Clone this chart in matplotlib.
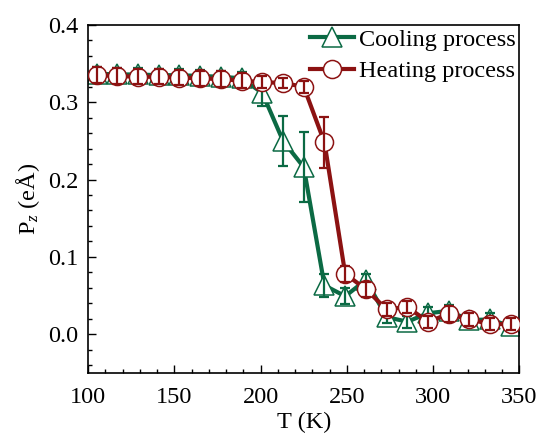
import numpy as np
import matplotlib

matplotlib.use("Agg")
import matplotlib.pyplot as plt
from matplotlib.ticker import MultipleLocator, FormatStrFormatter

plt.rcParams["font.family"] = ["Liberation Serif", "DejaVu Serif"]
plt.rcParams["mathtext.fontset"] = "custom"
plt.rcParams["mathtext.rm"] = "Liberation Serif"
plt.rcParams["mathtext.it"] = "Liberation Serif:italic"

# ---- data ----------------------------------------------------------------
temps = [105, 117, 129, 141, 153, 165, 177, 189, 201, 213, 225,
         237, 249, 261, 273, 285, 297, 309, 321, 333, 345]

cooling = [0.337, 0.336, 0.336, 0.335, 0.335, 0.334, 0.333, 0.331, 0.312, 0.250, 0.216,
           0.063, 0.049, 0.070, 0.022, 0.016, 0.027, 0.030, 0.018, 0.019, 0.010]
cooling_err = [0.008, 0.008, 0.008, 0.008, 0.008, 0.008, 0.008, 0.008, 0.017, 0.032, 0.045,
               0.015, 0.010, 0.008, 0.008, 0.008, 0.008, 0.008, 0.008, 0.008, 0.006]

heating = [0.335, 0.334, 0.333, 0.333, 0.332, 0.331, 0.330, 0.328, 0.326, 0.325, 0.320,
           0.248, 0.078, 0.058, 0.032, 0.035, 0.016, 0.026, 0.019, 0.013, 0.013]
heating_err = [0.010, 0.010, 0.010, 0.010, 0.010, 0.010, 0.010, 0.010, 0.008, 0.006, 0.008,
               0.033, 0.010, 0.010, 0.008, 0.008, 0.008, 0.010, 0.008, 0.008, 0.008]

GREEN = "#0b6a44"
RED = "#8c1212"
FS = 17.5

fig = plt.figure(figsize=(5.38, 4.34), dpi=100)
ax = fig.add_axes([0.1636, 0.1412, 0.8020, 0.8012])

# cooling: line + markers, then error bars above
ax.plot(temps, cooling, color=GREEN, lw=3.0, marker="^", ms=15,
        mfc="white", mec=GREEN, mew=1.1, zorder=2, label="Cooling process")
ax.errorbar(temps, cooling, yerr=cooling_err, fmt="none", ecolor=GREEN,
            elinewidth=1.6, capsize=3.6, capthick=1.6, zorder=3)

# heating drawn on top
ax.plot(temps, heating, color=RED, lw=3.0, marker="o", ms=13,
        mfc="white", mec=RED, mew=1.1, zorder=4, label="Heating process")
ax.errorbar(temps, heating, yerr=heating_err, fmt="none", ecolor=RED,
            elinewidth=1.6, capsize=3.6, capthick=1.6, zorder=5)

ax.set_xlim(100, 350)
ax.set_ylim(-0.05, 0.4)
ax.xaxis.set_major_locator(MultipleLocator(50))
ax.xaxis.set_minor_locator(MultipleLocator(10))
ax.yaxis.set_major_locator(MultipleLocator(0.1))
ax.yaxis.set_minor_locator(MultipleLocator(0.02))
ax.yaxis.set_major_formatter(FormatStrFormatter("%.1f"))
ax.tick_params(which="both", direction="in", top=False, right=False,
               labelsize=FS, width=1.0, pad=7)
ax.tick_params(axis="x", which="both", pad=10)
ax.tick_params(which="major", length=6)
ax.tick_params(which="minor", length=3)
for spine in ax.spines.values():
    spine.set_linewidth(1.2)

ax.set_xlabel("T (K)", fontsize=FS, labelpad=3)
ax.set_ylabel(r"P$_z$ (eÅ)", fontsize=FS, labelpad=4)

ax.legend(loc="upper right", frameon=False, fontsize=FS,
          handlelength=1.8, handletextpad=0.2, borderaxespad=0.05,
          borderpad=0.1, labelspacing=0.4)

fig.savefig("out.png", dpi=100)
